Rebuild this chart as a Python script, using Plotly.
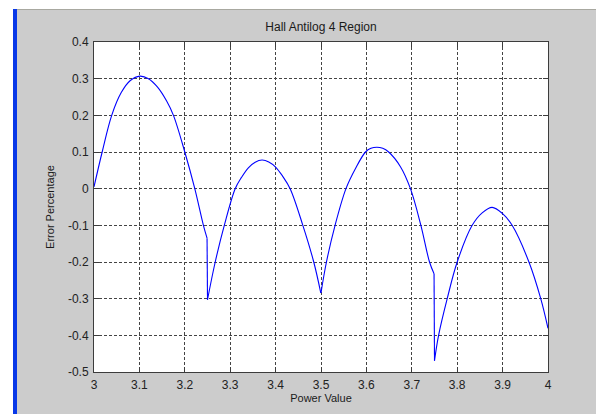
import plotly.graph_objects as go

# Data (piecewise arcs with drops at 3.25 and 3.75)
power_value = [
    3.000, 3.018, 3.039, 3.060, 3.080, 3.101, 3.120, 3.140, 3.160, 3.175, 3.200, 3.222, 3.241, 3.249,
    3.250, 3.267, 3.287, 3.311, 3.325, 3.340, 3.355, 3.370, 3.385, 3.400, 3.415, 3.432, 3.460, 3.484, 3.4995,
    3.500, 3.512, 3.531, 3.555, 3.576, 3.598, 3.610, 3.623, 3.636, 3.649, 3.675, 3.697, 3.720, 3.739, 3.749,
    3.750, 3.759, 3.778, 3.800, 3.833, 3.855, 3.877, 3.900, 3.921, 3.958, 3.984, 4.000,
]
error_percentage = [
    0.005, 0.100, 0.200, 0.262, 0.295, 0.307, 0.300, 0.277, 0.239, 0.200, 0.100, 0.000, -0.100, -0.135,
    -0.303, -0.200, -0.100, 0.000, 0.031, 0.057, 0.072, 0.078, 0.073, 0.059, 0.035, 0.000, -0.100, -0.200, -0.284,
    -0.284, -0.200, -0.100, 0.000, 0.055, 0.100, 0.110, 0.113, 0.110, 0.100, 0.060, 0.000, -0.100, -0.200, -0.232,
    -0.469, -0.400, -0.300, -0.200, -0.100, -0.066, -0.051, -0.068, -0.100, -0.200, -0.300, -0.381,
]
# index where each arc starts (the value jumps between arcs)
arc_starts = [0, 14, 29, 44]

x_ticks = [3.0, 3.1, 3.2, 3.3, 3.4, 3.5, 3.6, 3.7, 3.8, 3.9, 4.0]
x_tick_labels = ["3", "3.1", "3.2", "3.3", "3.4", "3.5", "3.6", "3.7", "3.8", "3.9", "4"]
y_ticks = [0.4, 0.3, 0.2, 0.1, 0.0, -0.1, -0.2, -0.3, -0.4, -0.5]
y_tick_labels = ["0.4", "0.3", "0.2", "0.1", "0", "-0.1", "-0.2", "-0.3", "-0.4", "-0.5"]

title_text = "Hall Antilog 4 Region"
x_title = "Power Value"
y_title = "Error Percentage"

# The page has an 8px body margin, so the figure starts at (8, 8) in the window.
W, H = 596, 406
L, R, T, B = 86, 56, 34, 42
PW, PH = W - L - R, H - T - B


def px(x):
    return (x - L) / PW


def py(y):
    return (H - B - y) / PH


fig = go.Figure()
line_style = dict(color="#0000ff", width=1.1)
bounds = arc_starts + [len(power_value)]
for i in range(len(arc_starts)):
    a, b = bounds[i], bounds[i + 1]
    fig.add_trace(go.Scatter(
        x=power_value[a:b], y=error_percentage[a:b], mode="lines",
        line=dict(shape="spline", smoothing=1.0, **line_style),
        showlegend=False,
    ))
    if b < len(power_value):
        # vertical drop joining the arcs
        fig.add_trace(go.Scatter(
            x=power_value[b - 1:b + 1], y=error_percentage[b - 1:b + 1], mode="lines",
            line=line_style, showlegend=False, hoverinfo="skip",
        ))

font = dict(family="Liberation Sans, Arial, sans-serif", size=11, color="#1a1a1a")
tick_font = dict(family="Liberation Sans, Arial, sans-serif", size=12, color="#222222")
title_font = dict(family="Liberation Sans, Arial, sans-serif", size=12, color="#1a1a1a")
axis_common = dict(
    showline=True, linecolor="#3c3c3c", linewidth=1, mirror="ticks",
    ticks="inside", ticklen=5, tickcolor="#3c3c3c",
    showgrid=True, gridcolor="#444444", gridwidth=1, griddash="3px,2px",
    zeroline=False, tickfont=tick_font, automargin=False, ticklabelstandoff=2,
)

fig.update_layout(
    width=W, height=H,
    margin=dict(l=L, r=R, t=T, b=B, pad=0, autoexpand=False),
    paper_bgcolor="#cccccc", plot_bgcolor="#ffffff",
    title=dict(text=title_text, x=0.5, xref="paper", xanchor="center",
               y=1 - 19 / H, yref="container", yanchor="middle", font=title_font, automargin=False),
    xaxis=dict(range=[3, 4], tickvals=x_ticks, ticktext=x_tick_labels,
               title=dict(text=x_title, font=font, standoff=2), **axis_common),
    yaxis=dict(range=[-0.5, 0.4], tickvals=y_ticks, ticktext=y_tick_labels,
               title=dict(text=y_title, font=font, standoff=11), **axis_common),
    shapes=[
        dict(type="rect", xref="paper", yref="paper", x0=px(0), x1=px(W), y0=py(1), y1=py(0),
             fillcolor="#ffffff", line_width=0, layer="below"),
        dict(type="rect", xref="paper", yref="paper", x0=px(0), x1=px(5), y0=py(H), y1=py(0),
             fillcolor="#ffffff", line_width=0, layer="below"),
        dict(type="rect", xref="paper", yref="paper", x0=px(5), x1=px(W), y0=py(2), y1=py(1),
             fillcolor="#a8a8a0", line_width=0, layer="below"),
        dict(type="rect", xref="paper", yref="paper", x0=px(5), x1=px(9), y0=py(H), y1=py(1),
             fillcolor="#0838e8", line_width=0, layer="below"),
        dict(type="rect", xref="paper", yref="paper", x0=px(594), x1=px(W), y0=py(H), y1=py(1),
             fillcolor="#2050d8", line_width=0, layer="below"),
    ],
)

fig.write_html("out.html")
